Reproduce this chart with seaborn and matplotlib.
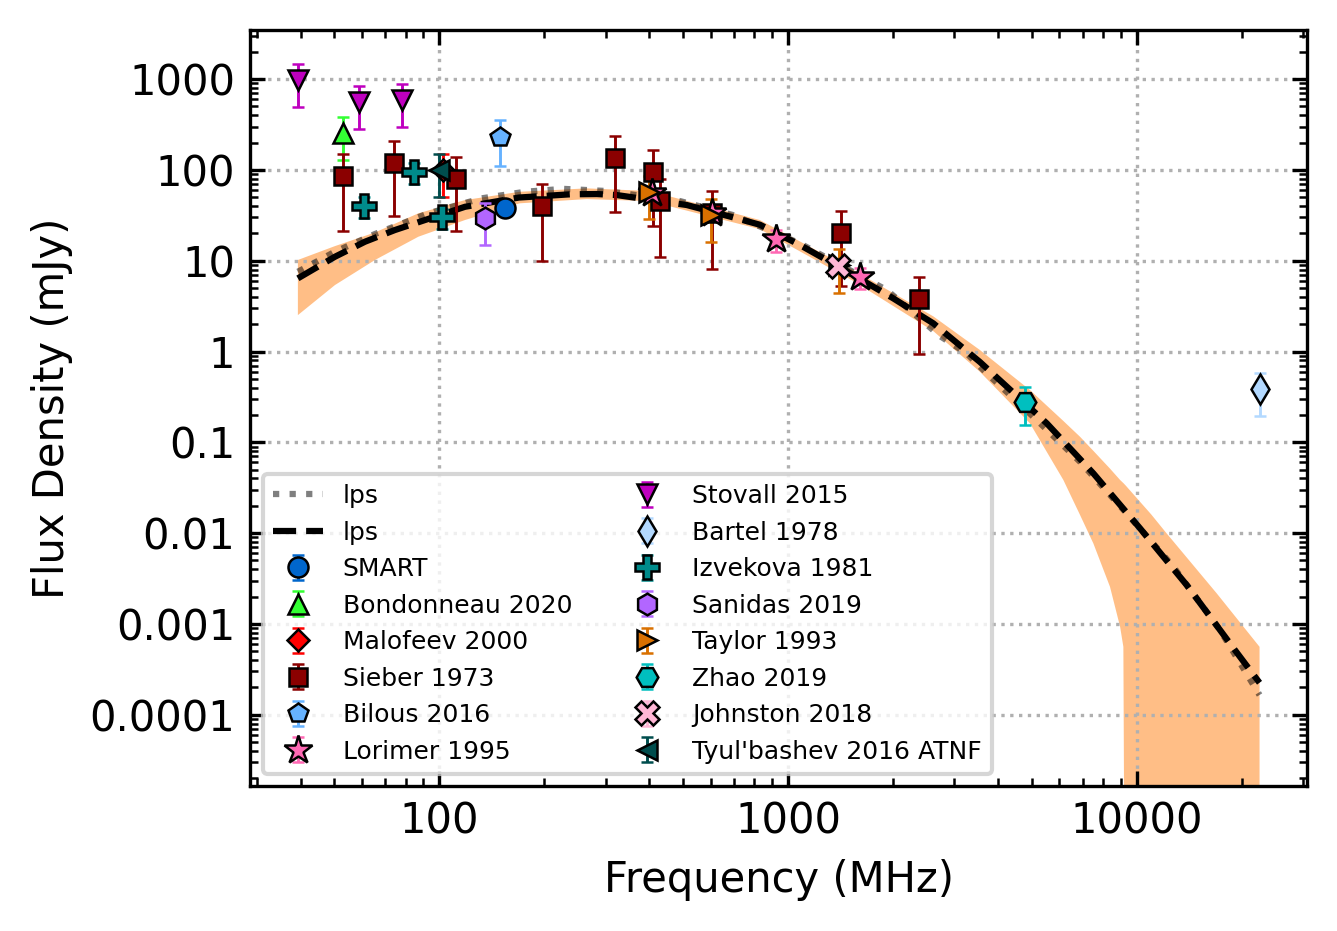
import numpy as np
import pandas as pd
import seaborn as sns
import matplotlib.pyplot as plt
from matplotlib.ticker import FuncFormatter, NullFormatter

# fitted log-parabolic spectra
lps1_freq = [39.3, 50.2, 65.4, 93.0, 132.3, 176.2, 226.8, 302, 490, 696.7, 1082,
             1919, 2729, 3254, 3632, 5168, 6878, 9361, 12735, 17336, 22500]
lps1_flux = [7.57, 12.57, 19.7, 33.3, 48.7, 57.5, 61.9, 58.6, 45.4, 31.8, 15.5,
             4.76, 1.48, 0.955, 0.626, 0.176, 0.0611, 0.0165, 0.00426, 0.000857, 0.000165]

lps2_freq = [39.3, 50.2, 61.2, 74.6, 91.0, 118.5, 169.3, 237, 282.8, 322.7, 512.3, 712.9,
             831, 1082, 1539, 2004, 2610, 3553, 5520, 7507, 10220, 13910, 18930, 22500]
lps2_flux = [6.40, 11.07, 16.2, 21.8, 28.1, 39.3, 49.7, 53.9, 54.3, 52.9, 41.1, 29.3,
             24.9, 14.9, 6.96, 3.85, 2.045, 0.766, 0.162, 0.0456, 0.0113, 0.00268, 0.000543, 0.000225]

# uncertainty band of the fit
band_freq = [39.3, 50.2, 65.4, 87.1, 118.5, 170, 265, 400, 830, 1540, 2610, 3550, 4940,
             6160, 6880, 7510, 8380, 8960, 9155, 9300, 11000, 12180, 16960, 22500]
band_hi = [10.2, 14.5, 20.5, 33.3, 46.6, 57.5, 62.7, 58.6, 28.1, 7.9, 2.44, 1.04, 0.377,
           0.172, 0.115, 0.0806, 0.0514, 0.0385, 0.0356, 0.0334, 0.0161, 0.00995, 0.00217, 0.00056]
band_lo = [2.52, 5.40, 10.2, 18.4, 28.1, 42.9, 47.8, 45.4, 22.3, 5.98, 1.68, 0.599, 0.162,
           0.0385, 0.0158, 0.0077, 0.00257, 0.00093, 0.00056, 1e-9, 1e-9, 1e-9, 1e-9, 1e-9]

# measurements (MHz, mJy, mJy)
smart_freq, smart_flux, smart_err = [154.6], [37.8], [3.8]
bond_freq, bond_flux, bond_err = [52.9], [255], [125]
malo_freq, malo_flux, malo_err = [102.3], [100], [50]
sieber_freq = [52.9, 74.2, 111.6, 196.7, 319, 410, 430, 607, 1416, 2375]
sieber_flux = [86, 120, 80, 40, 135, 95, 45, 33.4, 20.3, 3.75]
sieber_err = [65, 89, 59, 30, 101, 71, 34, 25.2, 15, 2.8]
bilous_freq, bilous_flux, bilous_err = [149.3], [232], [122]
lorimer_freq = [408, 606, 925, 1606]
lorimer_flux = [55.3, 33.5, 17.2, 6.67]
lorimer_err = [6, 4, 4.8, 1.75]
stovall_freq = [39.3, 58.9, 78.2]
stovall_flux = [980, 560, 590]
stovall_err = [490, 275, 295]
bartel_freq, bartel_flux, bartel_err = [22500], [0.39], [0.195]
izv_freq = [61.0, 84.8, 101.8]
izv_flux = [40.0, 95.5, 30.1]
izv_err = [10.5, 25, 7.5]
sanidas_freq, sanidas_flux, sanidas_err = [135.5], [29.3], [14.5]
taylor_freq = [400, 600, 1400]
taylor_flux = [57.5, 31.9, 8.9]
taylor_err = [28.6, 15.8, 4.43]
zhao_freq, zhao_flux, zhao_err = [4790], [0.28], [0.125]
johnston_freq, johnston_flux, johnston_err = [1388], [8.81], [0.9]
tyul_freq, tyul_flux, tyul_err = [100], [101], [50]

datasets = [
    ("SMART", smart_freq, smart_flux, smart_err, "o", "#0066cc"),
    ("Bondonneau 2020", bond_freq, bond_flux, bond_err, "^", "#33ff33"),
    ("Malofeev 2000", malo_freq, malo_flux, malo_err, "D", "red"),
    ("Sieber 1973", sieber_freq, sieber_flux, sieber_err, "s", "#8b0000"),
    ("Bilous 2016", bilous_freq, bilous_flux, bilous_err, "p", "#66b2ff"),
    ("Lorimer 1995", lorimer_freq, lorimer_flux, lorimer_err, "*", "#ff69b4"),
    ("Stovall 2015", stovall_freq, stovall_flux, stovall_err, "v", "#bf00bf"),
    ("Bartel 1978", bartel_freq, bartel_flux, bartel_err, "d", "#b3d9ff"),
    ("Izvekova 1981", izv_freq, izv_flux, izv_err, "P", "#008b8b"),
    ("Sanidas 2019", sanidas_freq, sanidas_flux, sanidas_err, "h", "#b266ff"),
    ("Taylor 1993", taylor_freq, taylor_flux, taylor_err, ">", "#d97000"),
    ("Zhao 2019", zhao_freq, zhao_flux, zhao_err, "H", "#00bfbf"),
    ("Johnston 2018", johnston_freq, johnston_flux, johnston_err, "X", "#ffb6d5"),
    ("Tyul'bashev 2016 ATNF", tyul_freq, tyul_flux, tyul_err, "<", "#004d4d"),
]
marker_size = {"o": 4.8, "s": 4.4, "^": 5.0, "v": 5.0, "<": 5.0, ">": 5.0, "*": 7.0,
               "p": 5.0, "h": 5.2, "H": 5.2, "d": 5.0, "D": 3.6, "P": 5.8, "X": 5.8}

fig, ax = plt.subplots(figsize=(1337 / 300, 931 / 300), dpi=300)
fig.subplots_adjust(left=0.187, right=0.9776, bottom=0.1557, top=0.9678)
ax.set_xscale("log")
ax.set_yscale("log")

# fits
ax.fill_between(band_freq, band_lo, band_hi, color="C1", alpha=0.5, lw=0, zorder=1)
sns.lineplot(x=lps1_freq, y=lps1_flux, ax=ax, color="k", alpha=0.5, linestyle=":",
             lw=1.5, label="lps", sort=False)
sns.lineplot(x=lps2_freq, y=lps2_flux, ax=ax, color="k", linestyle="--",
             lw=1.5, label="lps", sort=False)

# data points
for label, f, s, e, m, c in datasets:
    ax.errorbar(f, s, yerr=e, fmt=m, color=c, mfc=c, mec="k", mew=0.6, ms=marker_size[m],
                elinewidth=0.7, capsize=1.5, capthick=0.7, label=label, zorder=3)

ax.set_xlim(28.65, 30790)
ax.set_ylim(1.64e-5, 3480)
fmt = FuncFormatter(lambda v, _: f"{v:g}")
ax.xaxis.set_major_formatter(fmt)
ax.yaxis.set_major_formatter(fmt)
ax.xaxis.set_minor_formatter(NullFormatter())
ax.yaxis.set_minor_formatter(NullFormatter())
ax.tick_params(which="both", direction="in", top=True, right=True, labelsize=10)
ax.grid(True, which="major", ls=":", color="#b0b0b0", lw=0.8)

ax.set_xlabel("Frequency (MHz)", fontsize=10)
ax.set_ylabel("Flux Density (mJy)", fontsize=10)
ax.legend(loc="lower left", ncol=2, fontsize=6)

fig.savefig("out.png", dpi=300)
